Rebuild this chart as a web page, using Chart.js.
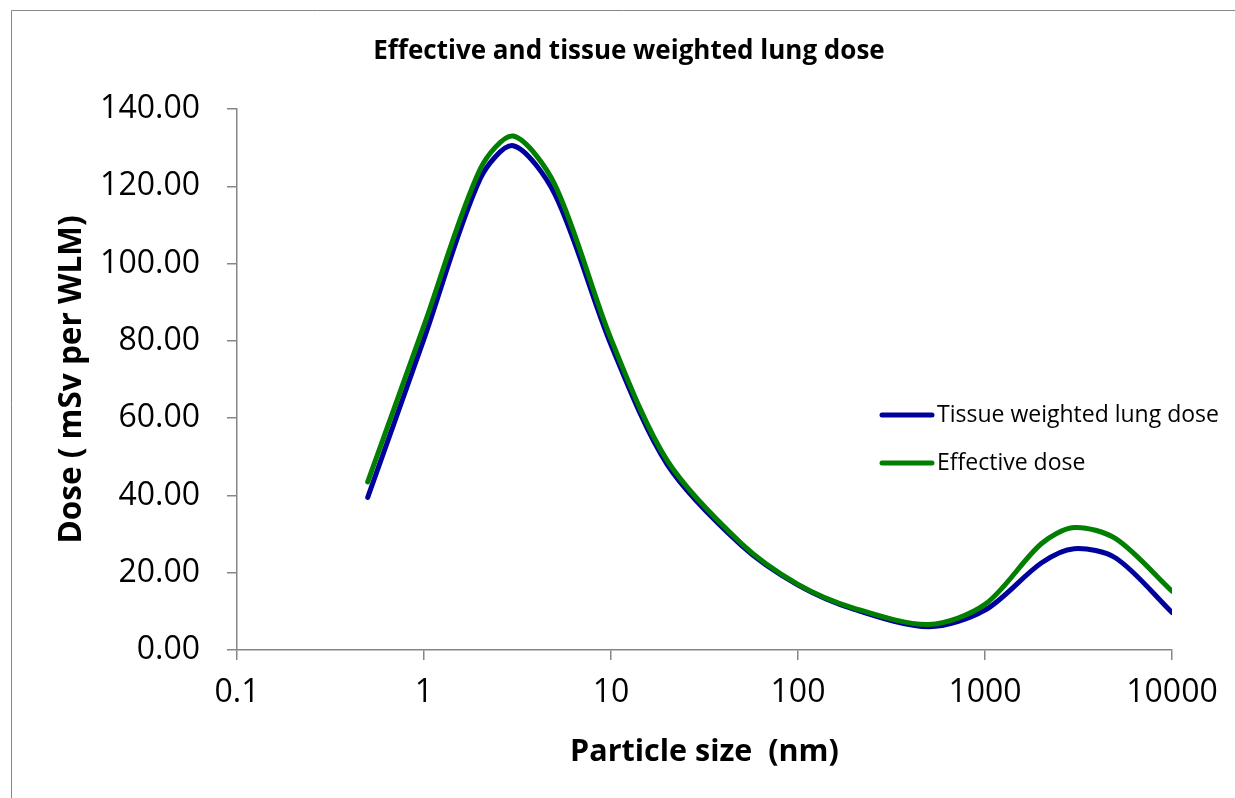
<!DOCTYPE html>
<html>
<head>
<meta charset="utf-8">
<script src="https://cdn.jsdelivr.net/npm/chart.js@4.4.1/dist/chart.umd.min.js"></script>
<style>
  html, body { margin: 0; padding: 0; background: #ffffff; }
  #wrap { position: relative; width: 1235px; height: 798px; }
</style>
</head>
<body>
<div id="wrap"><canvas id="c" width="1235" height="798"></canvas></div>
<script>
// ---- data ----
const particleSize = [0.5, 1, 2, 3, 5, 10, 20, 50, 100, 200, 500, 1000, 2000, 3000, 5000, 10000];
const tissueWeighted = [39.5, 80.5, 122.0, 130.5, 118.0, 79.0, 48.0, 27.0, 16.8, 10.5, 6.0, 10.3, 22.5, 26.2, 23.8, 9.7];
const effectiveDose  = [43.5, 84.0, 124.5, 133.0, 120.5, 80.5, 49.0, 27.5, 17.0, 10.8, 6.6, 11.8, 27.5, 31.7, 28.8, 15.2];
const xTickValues = [0.1, 1, 10, 100, 1000, 10000];
const xTickLabels = ['0.1', '1', '10', '100', '1000', '10000'];
const yTickValues = [0, 20, 40, 60, 80, 100, 120, 140];
const seriesNames = ['Tissue weighted lung dose', 'Effective dose'];
const chartTitle = 'Effective and tissue weighted lung dose';
const xTitle = 'Particle size  (nm)';
const yTitle = 'Dose ( mSv per WLM)';

const FONT = "'Open Sans', 'Liberation Sans', sans-serif";
const AXIS = '#868686';
const BLUE = '#00009C';
const GREEN = '#007F00';

const toPts = (ys) => particleSize.map((x, i) => ({ x: x, y: ys[i] }));

const frame = {
  id: 'frame',
  beforeDraw(chart) {
    const ctx = chart.ctx;
    ctx.save();
    ctx.fillStyle = '#ffffff';
    ctx.fillRect(0, 0, chart.width, chart.height);
    ctx.strokeStyle = AXIS;
    ctx.lineWidth = 1;
    ctx.beginPath();
    ctx.moveTo(11.5, chart.height + 2);
    ctx.lineTo(11.5, 10.5);
    ctx.lineTo(chart.width + 2, 10.5);
    ctx.stroke();
    ctx.restore();
  }
};

const customLegend = {
  id: 'customLegend',
  afterDraw(chart) {
    const ctx = chart.ctx;
    ctx.save();
    const rows = [415, 463];
    chart.data.datasets.forEach((ds) => {
      const idx = seriesNames.indexOf(ds.label);
      const y = rows[idx];
      ctx.strokeStyle = ds.borderColor;
      ctx.lineWidth = 5;
      ctx.lineCap = 'round';
      ctx.beginPath();
      ctx.moveTo(882, y);
      ctx.lineTo(932, y);
      ctx.stroke();
      ctx.fillStyle = '#000000';
      ctx.font = "23px " + FONT;
      ctx.textAlign = 'left';
      ctx.textBaseline = 'middle';
      ctx.fillText(ds.label, 937, y);
    });
    ctx.restore();
  }
};

new Chart(document.getElementById('c'), {
  type: 'line',
  data: {
    datasets: [
      { label: seriesNames[0], data: toPts(tissueWeighted), borderColor: BLUE, backgroundColor: BLUE,
        borderWidth: 5, pointRadius: 0, tension: 0.3, fill: false, order: 1, borderCapStyle: 'round' },
      { label: seriesNames[1], data: toPts(effectiveDose), borderColor: GREEN, backgroundColor: GREEN,
        borderWidth: 5, pointRadius: 0, tension: 0.3, fill: false, order: 0, borderCapStyle: 'round' }
    ]
  },
  options: {
    responsive: false,
    animation: false,
    devicePixelRatio: 1,
    layout: { padding: { left: 86, right: 63, top: 0, bottom: 0 } },
    plugins: {
      legend: { display: false },
      tooltip: { enabled: false },
      title: {
        display: true,
        text: chartTitle,
        color: '#000000',
        font: { family: FONT, size: 26, weight: 'bold' },
        padding: { top: 36, bottom: 41.8 }
      }
    },
    scales: {
      x: {
        type: 'logarithmic',
        min: 0.1,
        max: 10000,
        afterBuildTicks: (s) => { s.ticks = xTickValues.map(v => ({ value: v })); },
        afterFit: (s) => { s.height = 148; },
        ticks: {
          color: '#000000',
          font: { family: FONT, size: 32 },
          padding: 14,
          autoSkip: false,
          maxRotation: 0,
          callback: (v) => { const i = xTickValues.indexOf(v); return i >= 0 ? xTickLabels[i] : ''; }
        },
        grid: { display: true, drawOnChartArea: false, drawTicks: true, tickLength: 10, color: AXIS, lineWidth: 1.5 },
        border: { display: true, color: AXIS, width: 1.5 },
        title: {
          display: true,
          text: xTitle,
          color: '#000000',
          font: { family: FONT, size: 30.5, weight: 'bold' },
          padding: { top: 0, bottom: 27 }
        }
      },
      y: {
        type: 'linear',
        min: 0,
        max: 140,
        afterBuildTicks: (s) => { s.ticks = yTickValues.map(v => ({ value: v })); },
        afterFit: (s) => { s.width = 151; },
        ticks: {
          color: '#000000',
          font: { family: FONT, size: 32 },
          padding: 27,
          callback: (v) => Number(v).toFixed(2)
        },
        grid: { display: true, drawOnChartArea: false, drawTicks: true, tickLength: 10, color: AXIS, lineWidth: 1.5 },
        border: { display: true, color: AXIS, width: 1.5 },
        title: {
          display: true,
          text: yTitle,
          color: '#000000',
          font: { family: FONT, size: 31.5, weight: 'bold' },
          padding: { top: -32.9, bottom: 0 }
        }
      }
    }
  },
  plugins: [frame, customLegend]
});
</script>
</body>
</html>
